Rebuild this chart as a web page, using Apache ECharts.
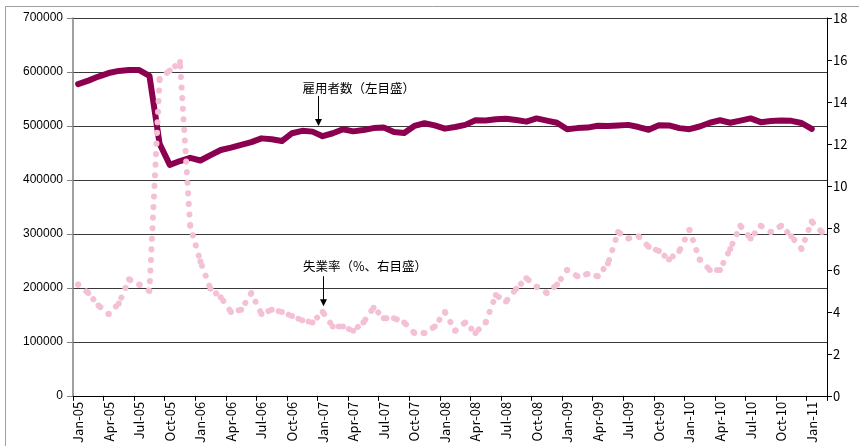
<!DOCTYPE html>
<html>
<head>
<meta charset="utf-8">
<script src="https://cdn.jsdelivr.net/npm/echarts@6/dist/echarts.min.js"></script>
<style>
  html, body { margin: 0; padding: 0; background: #fff; }
  #chart { width: 859px; height: 446px; }
</style>
</head>
<body>
<div id="chart"></div>
<script>
// Monthly categories, Jan-05 .. Feb-11
const months = [
  'Jan-05','Feb-05','Mar-05','Apr-05','May-05','Jun-05','Jul-05','Aug-05','Sep-05','Oct-05','Nov-05','Dec-05',
  'Jan-06','Feb-06','Mar-06','Apr-06','May-06','Jun-06','Jul-06','Aug-06','Sep-06','Oct-06','Nov-06','Dec-06',
  'Jan-07','Feb-07','Mar-07','Apr-07','May-07','Jun-07','Jul-07','Aug-07','Sep-07','Oct-07','Nov-07','Dec-07',
  'Jan-08','Feb-08','Mar-08','Apr-08','May-08','Jun-08','Jul-08','Aug-08','Sep-08','Oct-08','Nov-08','Dec-08',
  'Jan-09','Feb-09','Mar-09','Apr-09','May-09','Jun-09','Jul-09','Aug-09','Sep-09','Oct-09','Nov-09','Dec-09',
  'Jan-10','Feb-10','Mar-10','Apr-10','May-10','Jun-10','Jul-10','Aug-10','Sep-10','Oct-10','Nov-10','Dec-10',
  'Jan-11','Feb-11'
];

// 雇用者数 (left axis)
const employed = [
  577500, 584000, 591500, 598000, 602000, 603500, 603500, 593000, 467000, 428000, 435000, 441000,
  436000, 446000, 455500, 460000, 465000, 470000, 477000, 475500, 472000, 486500, 491000, 489500,
  481000, 486500, 494000, 490000, 492500, 496000, 497000, 489000, 487000, 500000, 505000, 501000,
  495000, 498000, 502000, 510500, 510000, 512500, 513500, 511000, 508000, 514000, 510000, 506000,
  494000, 496000, 497000, 500500, 500000, 501000, 502000, 498000, 493000, 501500, 501000, 496000,
  494000, 499000, 506000, 510500, 506000, 510000, 514000, 507000, 509000, 510000, 509500, 505500,
  494500, null
];

// 失業率 (%, right axis)
const unemployment = [
  5.3, 4.9, 4.3, 3.9, 4.4, 5.55, 5.3, 5.0, 15.1, 15.5, 15.9, 8.1,
  6.4, 5.1, 4.7, 4.0, 4.1, 4.9, 3.9, 4.1, 4.0, 3.8, 3.6, 3.5,
  4.0, 3.3, 3.3, 3.1, 3.5, 4.2, 3.7, 3.7, 3.5, 3.0, 3.0, 3.3,
  4.0, 3.1, 3.5, 3.0, 3.5, 4.8, 4.5, 5.1, 5.6, 5.2, 4.9, 5.3,
  6.0, 5.7, 5.8, 5.7, 6.3, 7.8, 7.5, 7.6, 7.1, 6.9, 6.5, 6.9,
  7.9, 6.5, 6.0, 6.0, 7.0, 8.1, 7.5, 8.1, 7.8, 8.1, 7.6, 7.0,
  8.3, 7.8
];

// Annotation labels and the data they point at
const employedLabel = '雇用者数（左目盛）';
const employedArrowAt = { from: 'Dec-06', to: 'Jan-07', value: 500000 };
const unemploymentLabel = '失業率（%、右目盛）';
const unemploymentArrowAt = { month: 'Jan-07', value: 4.27 };

const leftTicks = { min: 0, max: 700000, interval: 100000 };
const rightTicks = { min: 0, max: 18, interval: 2 };

const EMP_COLOR = '#8c0050';
const UNEMP_COLOR = '#f4c0d6';
const CJK = '"Noto Sans CJK JP", "Noto Sans", sans-serif';

const chart = echarts.init(document.getElementById('chart'), null, { renderer: 'canvas' });

chart.setOption({
  animation: false,
  backgroundColor: '#ffffff',
  grid: { left: 73, right: 32, top: 18, bottom: 50, containLabel: false },
  xAxis: {
    type: 'category',
    data: months,
    boundaryGap: true,
    axisLine: { show: true, lineStyle: { color: '#000', width: 1 } },
    axisTick: { show: true, interval: 2, length: 5, lineStyle: { color: '#000' } },
    axisLabel: {
      interval: 2, rotate: 90, margin: 6,
      fontFamily: CJK, fontSize: 13, color: '#000'
    },
    splitLine: { show: false }
  },
  yAxis: [
    {
      type: 'value',
      position: 'left',
      min: leftTicks.min, max: leftTicks.max, interval: leftTicks.interval,
      axisLine: { show: true, lineStyle: { color: '#808080', width: 1.5 } },
      axisTick: { show: true, inside: false, length: 6, lineStyle: { color: '#808080' } },
      axisLabel: {
        margin: 10, fontFamily: '"Liberation Sans", Arial, sans-serif', fontSize: 12, color: '#000',
        formatter: v => String(v)
      },
      splitLine: { show: true, lineStyle: { color: '#3a3a3a', width: 1 } }
    },
    {
      type: 'value',
      position: 'right',
      min: rightTicks.min, max: rightTicks.max, interval: rightTicks.interval,
      axisLine: { show: true, lineStyle: { color: '#000', width: 1 } },
      axisTick: { show: true, inside: false, length: 5, lineStyle: { color: '#000' } },
      axisLabel: { margin: 6, fontFamily: CJK, fontSize: 13, color: '#000' },
      splitLine: { show: false }
    }
  ],
  series: [
    {
      name: '雇用者数',
      type: 'line',
      yAxisIndex: 0,
      data: employed,
      showSymbol: false,
      symbol: 'none',
      connectNulls: false,
      lineStyle: { color: EMP_COLOR, width: 6, cap: 'round', join: 'round' },
      z: 2
    },
    {
      name: '失業率',
      type: 'line',
      yAxisIndex: 1,
      data: unemployment,
      symbol: 'circle',
      symbolSize: 6,
      showSymbol: true,
      itemStyle: { color: UNEMP_COLOR, borderWidth: 0 },
      lineStyle: { color: UNEMP_COLOR, width: 6, type: [0.1, 10.5], cap: 'round', join: 'round' },
      z: 3
    }
  ]
});

// Place the two callouts from the axes' own scales
function arrowGroup(x, tipY, textCenterY, textLeft, label) {
  const head = 7;
  return [
    {
      type: 'text',
      style: {
        x: textLeft, y: textCenterY, text: label,
        fontFamily: CJK, fontSize: 12.5, fill: '#000',
        textVerticalAlign: 'middle', verticalAlign: 'middle'
      },
      z: 20
    },
    {
      type: 'line',
      shape: { x1: x, y1: tipY - 30, x2: x, y2: tipY - head + 1 },
      style: { stroke: '#000', lineWidth: 1 },
      z: 20
    },
    {
      type: 'polygon',
      shape: { points: [[x - 3.5, tipY - head], [x + 3.5, tipY - head], [x, tipY]] },
      style: { fill: '#000' },
      z: 20
    }
  ];
}

const a = chart.convertToPixel({ xAxisIndex: 0, yAxisIndex: 0 }, [employedArrowAt.from, employedArrowAt.value]);
const b = chart.convertToPixel({ xAxisIndex: 0, yAxisIndex: 0 }, [employedArrowAt.to, employedArrowAt.value]);
const empX = Math.round((a[0] + b[0]) / 2) + 0.5;
const empTip = a[1];

const u = chart.convertToPixel({ xAxisIndex: 0, yAxisIndex: 1 }, [unemploymentArrowAt.month, unemploymentArrowAt.value]);
const unX = Math.round(u[0]) + 0.5;
const unTip = u[1];

chart.setOption({
  graphic: [
    {
      type: 'rect',
      shape: { x: 5.5, y: 6.5, width: 1000, height: 1000 },
      style: { fill: 'none', stroke: '#a0a0a0', lineWidth: 1 },
      z: 0, silent: true
    }
  ].concat(
    arrowGroup(empX, empTip, empTip - 38, empX - 16, employedLabel),
    arrowGroup(unX, unTip, unTip - 40, unX - 20.5, unemploymentLabel)
  )
});
</script>
</body>
</html>
